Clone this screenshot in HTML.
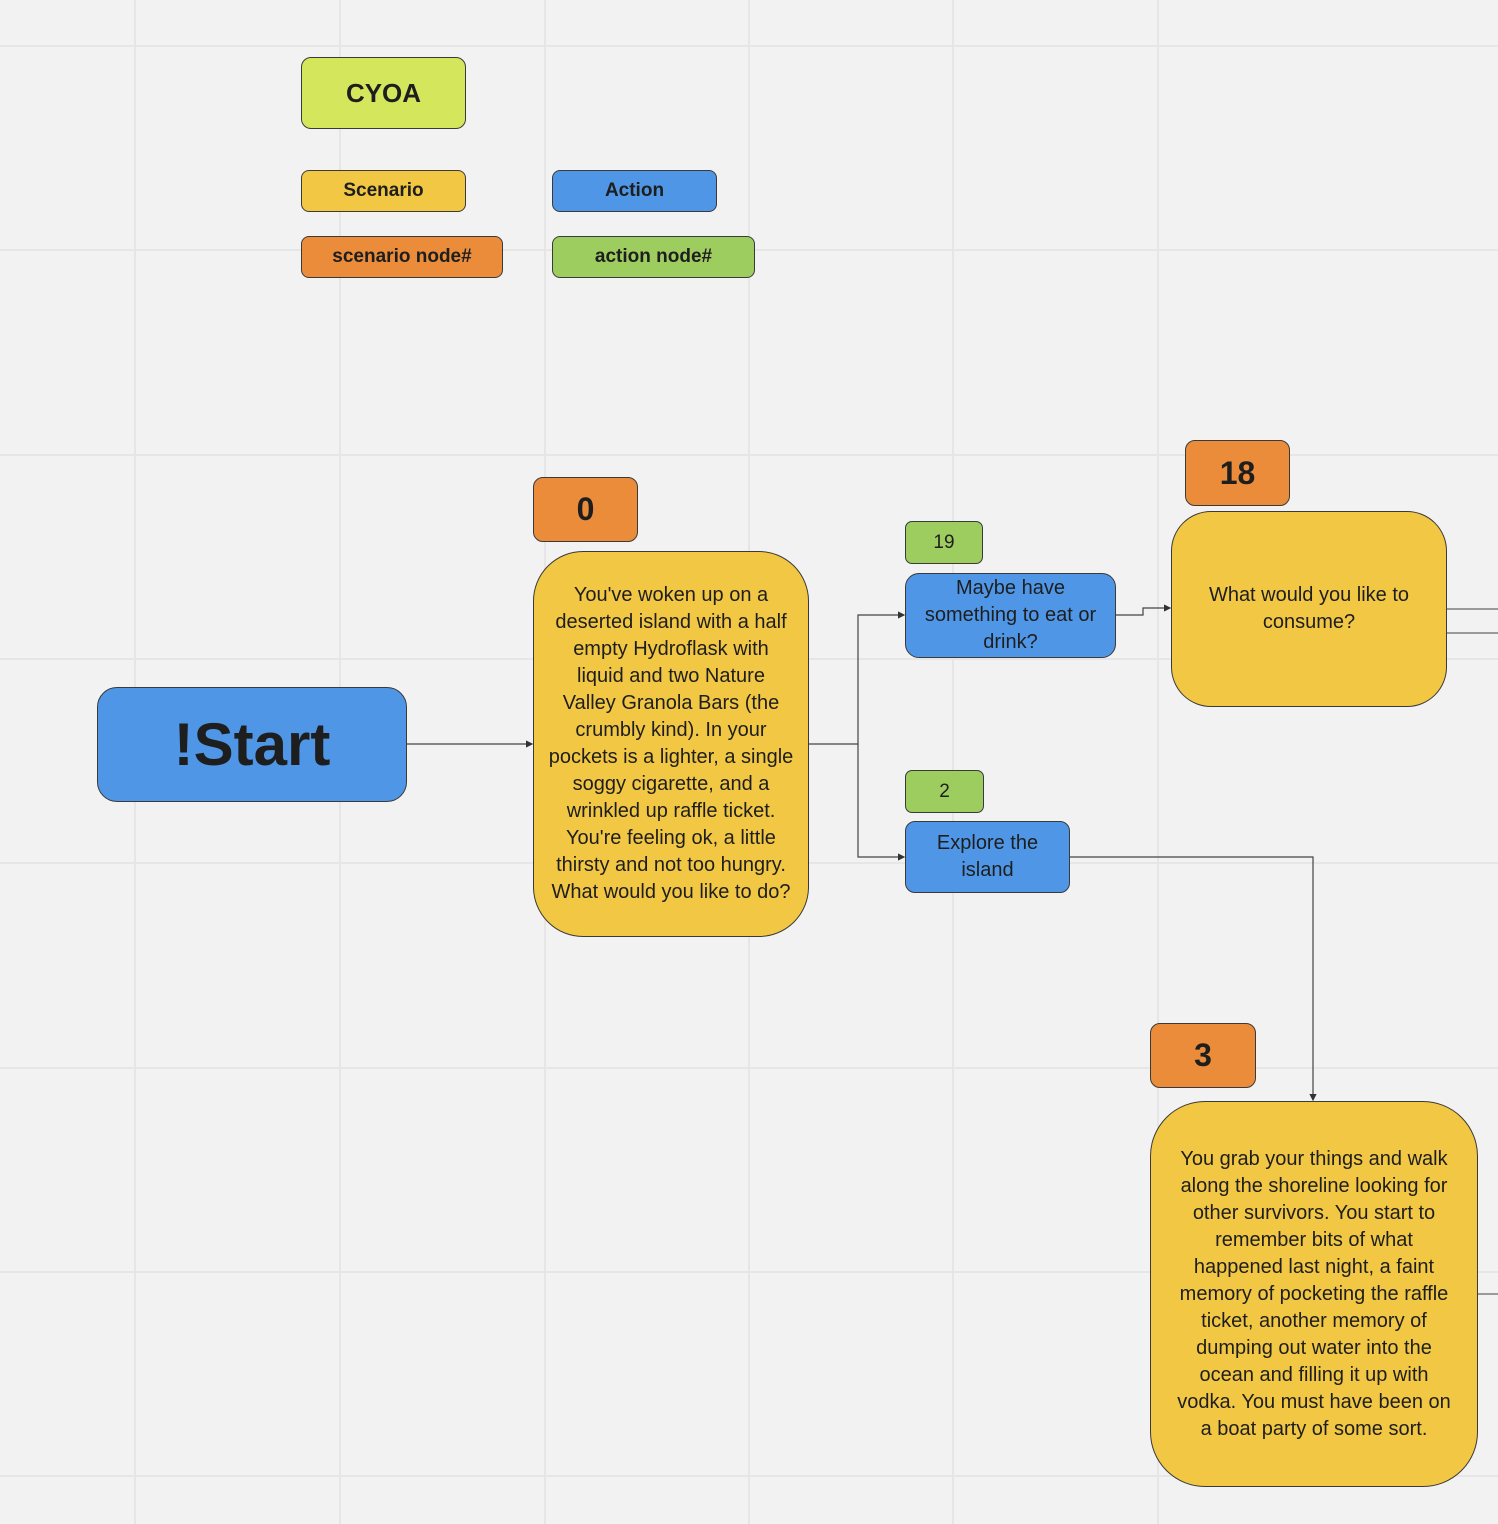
<!DOCTYPE html>
<html><head><style>
body{margin:0;width:1498px;height:1524px;overflow:hidden;background:#f2f2f2;font-family:"Liberation Sans",sans-serif;position:relative}
.b{position:absolute;box-sizing:border-box;border:1px solid #3a3a3a;display:flex;align-items:center;justify-content:center;text-align:center;color:#1e1e1e;white-space:nowrap}
.y{background:#f2c744}.bl{background:#4f97e6}.o{background:#ea8c3a}.g{background:#9dcd5f}
.lg{font-weight:bold;font-size:19px;border-radius:8px}
.t{font-size:20px;line-height:27px}
</style></head><body>
<svg width="1498" height="1524" style="position:absolute;left:0;top:0">
<g stroke="#e6e6e6" stroke-width="2">
<line x1="135" y1="0" x2="135" y2="1524"/><line x1="340" y1="0" x2="340" y2="1524"/><line x1="545" y1="0" x2="545" y2="1524"/><line x1="749" y1="0" x2="749" y2="1524"/><line x1="953" y1="0" x2="953" y2="1524"/><line x1="1158" y1="0" x2="1158" y2="1524"/>
<line x1="0" y1="46" x2="1498" y2="46"/><line x1="0" y1="250" x2="1498" y2="250"/><line x1="0" y1="455" x2="1498" y2="455"/><line x1="0" y1="659" x2="1498" y2="659"/><line x1="0" y1="863" x2="1498" y2="863"/><line x1="0" y1="1068" x2="1498" y2="1068"/><line x1="0" y1="1272" x2="1498" y2="1272"/><line x1="0" y1="1476" x2="1498" y2="1476"/>
</g>
<defs><marker id="a" markerWidth="6" markerHeight="6" refX="5" refY="3" orient="auto"><path d="M0,0L6,3L0,6z" fill="#333"/></marker></defs>
<g stroke="#444" stroke-width="1.2" fill="none">
<path d="M407,744H532" marker-end="url(#a)"/>
<path d="M809,744H858V615H904" marker-end="url(#a)"/>
<path d="M858,744V857H904" marker-end="url(#a)"/>
<path d="M1116,615H1143V608H1170" marker-end="url(#a)"/>
<path d="M1070,857H1313V1100" marker-end="url(#a)"/>
<path d="M1447,609H1498M1447,633H1498M1478,1294H1498" stroke="#666"/>
</g>
</svg>
<div class="b lg" style="left:301px;top:57px;width:165px;height:72px;background:#d4e65c;font-size:26px;font-weight:bold;border-radius:10px">CYOA</div>
<div class="b lg y" style="left:301px;top:170px;width:165px;height:42px">Scenario</div>
<div class="b lg bl" style="left:552px;top:170px;width:165px;height:42px">Action</div>
<div class="b lg o" style="left:301px;top:236px;width:202px;height:42px">scenario node#</div>
<div class="b lg g" style="left:552px;top:236px;width:203px;height:42px">action node#</div>
<div class="b bl" style="left:97px;top:687px;width:310px;height:115px;border-radius:20px;font-size:60px;font-weight:bold">!Start</div>
<div class="b o" style="left:533px;top:477px;width:105px;height:65px;border-radius:10px;font-size:32px;font-weight:bold">0</div>
<div class="b y t" style="left:533px;top:551px;width:276px;height:386px;border-radius:50px">You've woken up on a<br>deserted island with a half<br>empty Hydroflask with<br>liquid and two Nature<br>Valley Granola Bars (the<br>crumbly kind). In your<br>pockets is a lighter, a single<br>soggy cigarette, and a<br>wrinkled up raffle ticket.<br>You're feeling ok, a little<br>thirsty and not too hungry.<br>What would you like to do?</div>
<div class="b g" style="left:905px;top:521px;width:78px;height:43px;border-radius:7px;font-size:19px">19</div>
<div class="b bl t" style="left:905px;top:573px;width:211px;height:85px;border-radius:14px">Maybe have<br>something to eat or<br>drink?</div>
<div class="b g" style="left:905px;top:770px;width:79px;height:43px;border-radius:7px;font-size:19px">2</div>
<div class="b bl t" style="left:905px;top:821px;width:165px;height:72px;border-radius:10px">Explore the<br>island</div>
<div class="b o" style="left:1185px;top:440px;width:105px;height:66px;border-radius:10px;font-size:32px;font-weight:bold">18</div>
<div class="b y t" style="left:1171px;top:511px;width:276px;height:196px;border-radius:40px">What would you like to<br>consume?</div>
<div class="b o" style="left:1150px;top:1023px;width:106px;height:65px;border-radius:10px;font-size:32px;font-weight:bold">3</div>
<div class="b y t" style="left:1150px;top:1101px;width:328px;height:386px;border-radius:55px">You grab your things and walk<br>along the shoreline looking for<br>other survivors. You start to<br>remember bits of what<br>happened last night, a faint<br>memory of pocketing the raffle<br>ticket, another memory of<br>dumping out water into the<br>ocean and filling it up with<br>vodka. You must have been on<br>a boat party of some sort.</div>
</body></html>
